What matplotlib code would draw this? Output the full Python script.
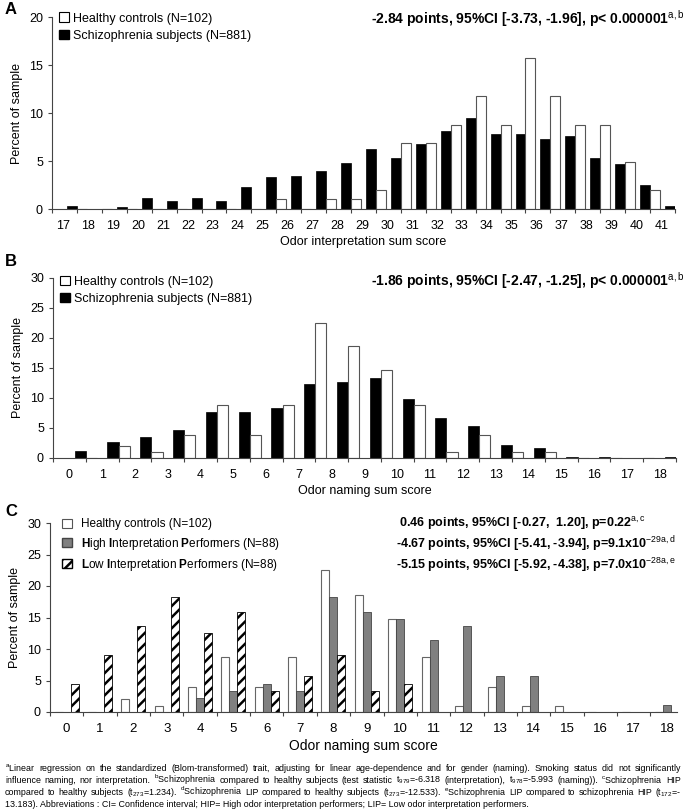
import numpy as np
import matplotlib
matplotlib.use('Agg')
import matplotlib.pyplot as plt
from matplotlib.patches import Patch
from matplotlib.transforms import IdentityTransform
from matplotlib import font_manager

# font: narrow Helvetica look if available
names = {f.name for f in font_manager.fontManager.ttflist}
fam = 'Liberation Sans Narrow' if 'Liberation Sans Narrow' in names else 'Liberation Sans'
plt.rcParams['font.family'] = [fam, 'DejaVu Sans']
plt.rcParams['mathtext.fontset'] = 'custom'
plt.rcParams['mathtext.rm'] = fam
plt.rcParams['mathtext.it'] = fam + ':italic'
plt.rcParams['mathtext.bf'] = fam + ':bold'
plt.rcParams['hatch.linewidth'] = 1.8

# ---- data (percent of sample) ----
interp_scores = list(range(17, 42))
interp_scz = [0.3, 0, 0.2, 1.1, 0.8, 1.1, 0.8, 2.3, 3.3, 3.4, 4.0, 4.8, 6.3,
              5.3, 6.8, 8.1, 9.5, 7.8, 7.8, 7.3, 7.6, 5.3, 4.7, 2.5, 0.3]
interp_hc = [0, 0, 0, 0, 0, 0, 0, 0, 1.0, 0, 1.0, 1.0, 2.0,
             6.9, 6.9, 8.8, 11.8, 8.8, 15.7, 11.8, 8.8, 8.8, 4.9, 2.0, 0]

naming_scores = list(range(0, 19))
naming_scz = [1.2, 2.6, 3.5, 4.7, 7.7, 7.7, 8.4, 12.4, 12.7, 13.4,
              9.8, 6.7, 5.3, 2.2, 1.7, 0.2, 0.2, 0, 0.2]
naming_hc = [0, 2.0, 1.0, 3.9, 8.8, 3.9, 8.8, 22.5, 18.6, 14.7,
             8.8, 1.0, 3.9, 1.0, 1.0, 0, 0, 0, 0]

c_hc = [0, 0, 2.0, 1.0, 3.9, 8.8, 3.9, 8.8, 22.5, 18.6,
        14.7, 8.8, 1.0, 3.9, 1.0, 1.0, 0, 0, 0]
c_hip = [0, 0, 0, 0, 2.3, 3.4, 4.5, 3.4, 18.2, 15.9,
         14.8, 11.4, 13.6, 5.7, 5.7, 0, 0, 0, 1.1]
c_lip = [4.5, 9.1, 13.6, 18.2, 12.5, 15.9, 3.4, 5.7, 9.1, 3.4,
         4.5, 0, 0, 0, 0, 0, 0, 0, 0]

stat_a = r'-2.84 points, 95%CI [-3.73, -1.96], p< 0.000001$^{\mathrm{a,b}}$'
stat_b = r'-1.86 points, 95%CI [-2.47, -1.25], p< 0.000001$^{\mathrm{a,b}}$'
stat_c = [r' 0.46 points, 95%CI [-0.27,  1.20], p=0.22$^{\mathrm{a,c}}$',
          r'-4.67 points, 95%CI [-5.41, -3.94], p=9.1x10$^{\mathrm{-29a,d}}$',
          r'-5.15 points, 95%CI [-5.92, -4.38], p=7.0x10$^{\mathrm{-28a,e}}$']

foot_lines = [
    r'$^{\mathrm{a}}$Linear regression on the standardized (Blom-transformed) trait, adjusting for linear age-dependence and for gender (naming). Smoking status did not significantly',
    r'influence naming, nor interpretation. $^{\mathrm{b}}$Schizophrenia compared to healthy subjects (test statistic t$_{979}$=-6.318 (interpretation), t$_{978}$=-5.993 (naming)). $^{\mathrm{c}}$Schizophrenia HIP',
    r'compared to healthy subjects (t$_{273}$=1.234). $^{\mathrm{d}}$Schizophrenia LIP compared to healthy subjects (t$_{273}$=-12.533). $^{\mathrm{e}}$Schizophrenia LIP compared to schizophrenia HIP (t$_{172}$=-',
    '13.183). Abbreviations : CI= Confidence interval; HIP= High odor interpretation performers; LIP= Low odor interpretation performers.',
]

W, H = 685, 810
fig = plt.figure(figsize=(W / 100, H / 100), dpi=100)


def axrect(left, right, top, bottom):
    return [left / W, 1 - bottom / H, (right - left) / W, (bottom - top) / H]


def style(ax, ymax):
    for s in ['top', 'right']:
        ax.spines[s].set_visible(False)
    for s in ['left', 'bottom']:
        ax.spines[s].set_color('#444444')
        ax.spines[s].set_linewidth(0.8)
    ax.set_ylim(0, ymax)
    ax.set_yticks(range(0, ymax + 1, 5))
    ax.tick_params(axis='both', labelsize=9, color='#444444', length=3, width=0.8)
    ax.set_ylabel('Percent of sample', fontsize=9, labelpad=4)


axA = fig.add_axes(axrect(52, 675, 17, 209))
axB = fig.add_axes(axrect(53, 676, 278, 458))
axC = fig.add_axes(axrect(50, 677, 523, 712))

two_handles = [Patch(facecolor='white', edgecolor='black', lw=0.8),
               Patch(facecolor='black', edgecolor='black')]
two_labels = ['Healthy controls (N=102)', 'Schizophrenia subjects (N=881)']

# ---- A ----
style(axA, 20)
x = np.array(interp_scores)
w = 0.4
axA.bar(x - w / 2, interp_scz, w, color='black', edgecolor='black', lw=0.5)
axA.bar(x + w / 2, interp_hc, w, color='white', edgecolor='#555555', lw=0.8)
axA.set_xlim(x[0] - 1, x[-1])
axA.set_xticks(np.arange(x[0] - 1, x[-1] + 1))
axA.set_xticklabels([])
axA.set_xticks(x - 0.55, labels=[str(v) for v in x], minor=True)
axA.tick_params(axis='x', which='minor', length=0, labelsize=9, pad=8)
axA.set_xlabel('Odor interpretation sum score', fontsize=9, labelpad=3)
axA.legend(handles=two_handles, labels=two_labels,
           loc='upper left', bbox_to_anchor=(0.004, 1.05), frameon=False,
           fontsize=9, handlelength=0.8, handleheight=0.8, handletextpad=0.3,
           labelspacing=0.4, borderaxespad=0)
fig.text(684 / W, 1 - 19 / H, stat_a, ha='right', va='center', fontsize=10, fontweight='bold')

# ---- B ----
style(axB, 30)
x = np.array(naming_scores)
w = 0.34
axB.bar(x - w / 2, naming_scz, w, color='black', edgecolor='black', lw=0.5)
axB.bar(x + w / 2, naming_hc, w, color='white', edgecolor='#555555', lw=0.8)
axB.set_xlim(x[0] - 1, x[-1])
axB.set_xticks(np.arange(x[0] - 1, x[-1] + 1))
axB.set_xticklabels([])
axB.set_xticks(x - 0.5, labels=[str(v) for v in x], minor=True)
axB.tick_params(axis='x', which='minor', length=0, labelsize=9, pad=8)
axB.set_xlabel('Odor naming sum score', fontsize=9, labelpad=3)
axB.legend(handles=two_handles, labels=two_labels,
           loc='upper left', bbox_to_anchor=(0.004, 1.04), frameon=False,
           fontsize=9, handlelength=0.8, handleheight=0.8, handletextpad=0.3,
           labelspacing=0.4, borderaxespad=0)
fig.text(684 / W, 1 - 281 / H, stat_b, ha='right', va='center', fontsize=10, fontweight='bold')

# ---- C ----
style(axC, 30)
x = np.array(naming_scores)
w = 0.24
axC.bar(x - w, c_hc, w, color='white', edgecolor='#666666', lw=0.8)
axC.bar(x, c_hip, w, color='#808080', edgecolor='#444444', lw=0.6)
axC.bar(x + w, c_lip, w, color='white', edgecolor='black', lw=0.6, hatch='///')
axC.set_xlim(-0.5, 18.3)
axC.set_xticks(np.arange(-0.5, 18.5, 1))
axC.set_xticklabels([])
axC.set_xticks(x, labels=[str(v) for v in x], minor=True)
axC.tick_params(axis='x', which='minor', length=0, labelsize=9.5, pad=8)
axC.set_xlabel('Odor naming sum score', fontsize=10, labelpad=3)
axC.legend(handles=[Patch(facecolor='white', edgecolor='#555555', lw=0.8),
                    Patch(facecolor='#808080', edgecolor='#444444'),
                    Patch(facecolor='white', edgecolor='black', hatch='///')],
           labels=['Healthy controls (N=102)',
                   r'$\mathbf{H}$igh $\mathbf{I}$nterpretation $\mathbf{P}$erformers (N=88)',
                   r'$\mathbf{L}$ow $\mathbf{I}$nterpretation $\mathbf{P}$erformers (N=88)'],
           loc='upper left', bbox_to_anchor=(0.012, 1.05), frameon=False,
           fontsize=8.5, handlelength=0.8, handleheight=0.8, handletextpad=0.8,
           labelspacing=0.45, borderaxespad=0)
for i, s in enumerate(stat_c):
    fig.text(396 / W, 1 - (523 + 21 * i) / H, s, ha='left', va='center',
             fontsize=9, fontweight='bold')

# panel letters
for letter, yy in [('A', 10), ('B', 262), ('C', 512)]:
    fig.text(5 / W, 1 - yy / H, letter, fontsize=12, fontweight='bold', va='center')

# ---- footnote, justified ----
fig.canvas.draw()
rend = fig.canvas.get_renderer()


def text_width(s, size):
    t = fig.text(0, 0, s, fontsize=size, transform=IdentityTransform())
    wpx = t.get_window_extent(renderer=rend).width
    t.remove()
    return wpx


fs = 7 * 640 / text_width(foot_lines[0], 7)
foot_y = [771, 783, 795, 807]
for i, line in enumerate(foot_lines):
    yb = H - foot_y[i]
    if i == len(foot_lines) - 1:
        fig.text(5, yb, line, fontsize=fs, transform=IdentityTransform(), va='baseline')
        continue
    words = line.split(' ')
    widths = [text_width(wd, fs) for wd in words]
    gap = (681 - 5 - sum(widths)) / (len(words) - 1)
    xx = 5
    for wd, ww in zip(words, widths):
        fig.text(xx, yb, wd, fontsize=fs, transform=IdentityTransform(), va='baseline')
        xx += ww + gap

fig.savefig('out.png', dpi=100)
